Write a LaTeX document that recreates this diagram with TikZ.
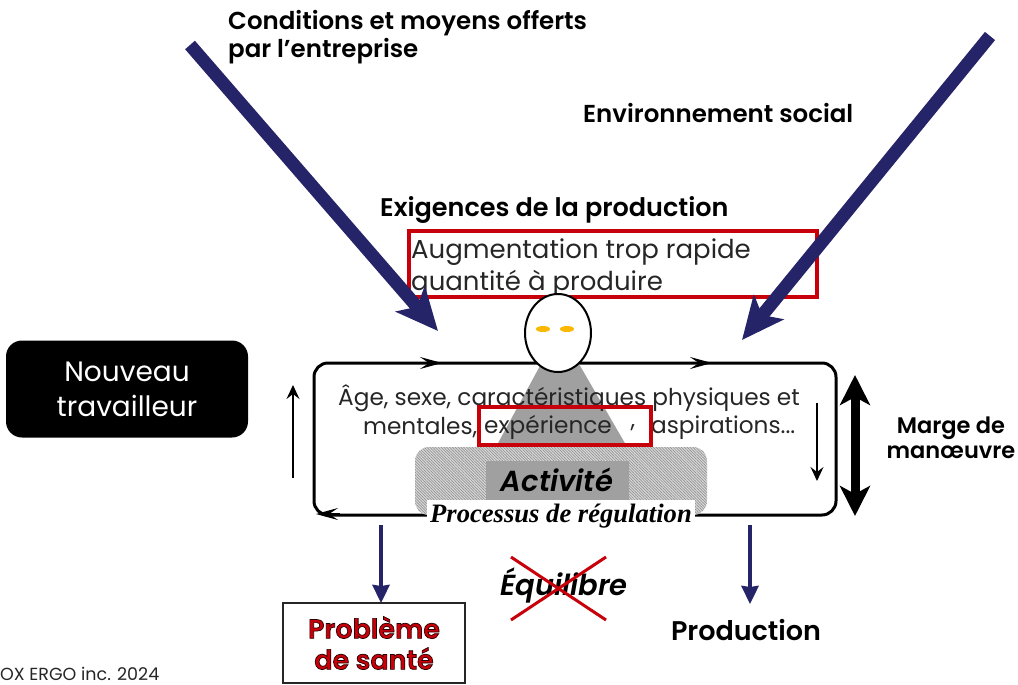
\documentclass[tikz,border=0pt]{standalone}
\usepackage{fontspec}
\setmainfont{Poppins}[BoldFont={Poppins SemiBold}]
\newfontfamily\serifbi{Liberation Serif}
\usetikzlibrary{positioning, arrows.meta, patterns.meta, shapes.geometric}
\definecolor{navy}{RGB}{38,36,104}
\definecolor{redline}{RGB}{200,0,10}
\definecolor{eyeorange}{RGB}{250,185,0}
\definecolor{midgray}{RGB}{160,160,160}
\newcommand{\sz}[1]{\fontsize{#1}{#1}\selectfont}
\newcommand{\outlined}[1]{\special{pdf:code q 2 Tr 0.7 w 0.15 0 0 RG}#1\special{pdf:code 0 Tr Q}}

\begin{document}
\begin{tikzpicture}[x=1pt, y=-1pt,
	title/.style={font=\sz{24.5}\bfseries, align=left, anchor=west, inner sep=0pt},
	plain/.style={font=\sz{23.2}, text=black!85, inner sep=0pt},
	bigarrow/.style={draw=navy, line width=13pt, -{Stealth[length=42pt, width=38pt, inset=10pt]}},
	downarrow/.style={draw=navy, line width=4pt, -{Stealth[length=18pt, width=17pt, inset=1pt]}},
	thinarrow/.style={line width=1.1pt, -{Stealth[length=14pt, width=13pt, inset=5pt]}},
	looptip/.style={line width=2pt, -{Stealth[length=22pt, width=12pt, inset=9pt]}},
	redbox/.style={draw=redline, line width=3.5pt},
	]
	\useasboundingbox (0,0) rectangle (1018,685);

	\node[title] (conditions) at (228,37) {Conditions et moyens offerts\\[1pt]par l'entreprise};
	\node[title] (social) at (583,113) {Environnement social};
	\node[title, font=\sz{25.5}\bfseries] (exigences) at (380,210) {Exigences de la production};

	\node[redbox, minimum width=408pt, minimum height=66pt, inner sep=0pt] (augmentation) at (613,264) {};
	\node[plain, font=\sz{26}, align=left, anchor=north west] (augtext) at (411,239) {Augmentation trop rapide\\[3pt]quantité à produire};

	\coordinate (condstart) at (190,45);
	\coordinate (condend) at (438,331);
	\coordinate (socstart) at (990,36);
	\coordinate (socend) at (742,340);
	\path (condstart) edge[bigarrow] (condend)
	(socstart) edge[bigarrow] (socend);

	\node[fill=black, rounded corners=16pt, minimum width=242pt, minimum height=97pt, text=white, align=center, font=\sz{28}, inner sep=0pt] (nouveau) at (127,389) {Nouveau\\[7pt]travailleur};

	% regulation loop
	\node[draw=black, line width=3pt, rounded corners=14pt, minimum width=522pt, minimum height=152pt, inner sep=0pt] (frame) at (575,439) {};
	\coordinate (topa) at (420,363);
	\coordinate (topb) at (442,363);
	\coordinate (topc) at (690,363);
	\coordinate (topd) at (712,363);
	\coordinate (bota) at (340,514);
	\coordinate (botb) at (316,514);
	\path (topa) edge[looptip] (topb)
	(topc) edge[looptip] (topd)
	(bota) edge[looptip] (botb);

	\fill[midgray] (541,364) -- (579,364) -- (626,445) -- (497,445) -- cycle;
	\node[draw=black, line width=2pt, fill=white, ellipse, minimum width=66pt, minimum height=78pt, inner sep=0pt] (head) at (558,333) {};
	\fill[eyeorange] (543,329) ellipse (7pt and 3pt);
	\fill[eyeorange] (567,329) ellipse (7pt and 3pt);

	\node[plain, anchor=west] (agetext) at (338,398) {Âge, sexe, caractéristiques physiques et};
	\node[plain, anchor=west] (mentales) at (363,428) {mentales,};
	\node[plain] (experience) at (548,427) {expérience};
	\node[plain] (comma) at (633,428) {,};
	\node[plain, anchor=west] (aspirations) at (651,428) {aspirations...};
	\node[redbox, minimum width=172pt, minimum height=38pt, inner sep=0pt] (redexp) at (565,426) {};

	\node[preaction={fill=gray!30}, pattern={Lines[angle=135, distance=2pt, line width=0.7pt]}, pattern color=gray!85, rounded corners=14pt, minimum width=292pt, minimum height=68pt, inner sep=0pt] (hatch) at (561,481) {};
	\node[fill=midgray, minimum width=143pt, minimum height=39pt, inner sep=0pt, font=\sz{29}\bfseries\itshape] (activite) at (557,480) {Activité};
	\node[fill=white, minimum width=268pt, minimum height=32pt, inner sep=0pt, font=\serifbi\sz{26.6}\bfseries\itshape] (processus) at (561,516) {Processus de régulation};

	\coordinate (uparrowa) at (293,478);
	\coordinate (uparrowb) at (293,385);
	\coordinate (dnarrowa) at (817,403);
	\coordinate (dnarrowb) at (817,481);
	\path (uparrowa) edge[thinarrow] (uparrowb)
	(dnarrowa) edge[thinarrow] (dnarrowb);

	\coordinate (margea) at (855,375);
	\coordinate (margeb) at (855,516);
	\path (margea) edge[line width=9pt, {Stealth[length=30pt, width=30pt, inset=8pt]}-{Stealth[length=30pt, width=30pt, inset=8pt]}] (margeb);
	\node[font=\sz{22.5}\bfseries, align=center, inner sep=0pt] (marge) at (951,438) {Marge de\\[3pt]manœuvre};

	\node[draw=black!85, line width=1.5pt, minimum width=182pt, minimum height=80pt, inner sep=0pt, align=center, text=redline, font=\sz{27}\bfseries] (probleme) at (374,643) {\outlined{Problème}\\[4pt]\outlined{de santé}};
	\node[font=\sz{27}\bfseries, inner sep=0pt] (production) at (746,630) {Production};
	\node[font=\sz{29}\bfseries\itshape, inner sep=0pt] (equilibre) at (564,585) {Équilibre};

	\coordinate (probstart) at (381,525);
	\coordinate (probend) at (381,603);
	\coordinate (prodstart) at (750,525);
	\coordinate (prodend) at (750,604);
	\path (probstart) edge[downarrow] (probend)
	(prodstart) edge[downarrow] (prodend);

	\coordinate (crossa) at (511,557);
	\coordinate (crossb) at (606,620);
	\coordinate (crossc) at (606,557);
	\coordinate (crossd) at (511,620);
	\path[draw=redline, line width=3pt] (crossa) edge (crossb) (crossc) edge (crossd);

	\node[font=\sz{17.5}, text=black!85, anchor=west, inner sep=0pt] (copyright) at (0,674) {OX ERGO inc. 2024};
\end{tikzpicture}
\end{document}
